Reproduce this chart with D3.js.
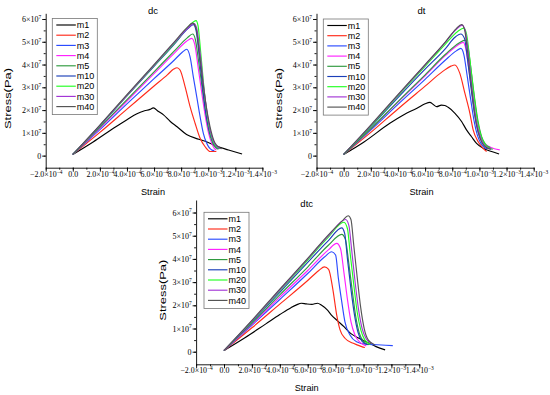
<!DOCTYPE html>
<html><head><meta charset="utf-8">
<script src="https://cdn.jsdelivr.net/npm/d3@7"></script>
<style>body{margin:0;background:#fff}svg{display:block;background:#fff}</style>
</head><body>
<svg id="c" width="550" height="395"></svg>
<script>
// ---- data (strain in units of 1e-4, stress in units of 1e7 Pa) ----
const STRAIN_UNIT = 1e-4, STRESS_UNIT = 1e7;
const seriesNames = ["m1","m2","m3","m4","m5","m10","m20","m30","m40"];
const seriesColors = ["#000000","#ff2a1a","#2b4bff","#ff22ff","#2f9a3f","#1b3fb8","#22ff22","#a336d6","#555555"];

const xTickValues = [-2e-4,0,2e-4,4e-4,6e-4,8e-4,1.0e-3,1.2e-3,1.4e-3];
const xTickMantissa = ["\u22122.0","0.0","2.0","4.0","6.0","8.0","1.0","1.2","1.4"];
const xTickExponent = ["\u22124","","\u22124","\u22124","\u22124","\u22124","\u22123","\u22123","\u22123"];
const yTickValues = [0,1e7,2e7,3e7,4e7,5e7,6e7];
const yTickMantissa = ["0","1","2","3","4","5","6"];
const yTickExponent = ["","7","7","7","7","7","7"];

// dc
const dc_m1 = [[0,0.05],[1.5,0.6],[3,1.2],[4,1.58],[4.7,1.83],[5.3,1.97],[5.7,2.03],[5.95,2.1],[6.3,1.95],[6.7,1.79],[7.2,1.5],[7.7,1.27],[8.4,0.93],[9.3,0.72],[10.0,0.58],[10.6,0.42],[11.5,0.25],[12.5,0.07]];
const dc_m2 = [[0,0.05],[2,1.02],[4,2.04],[6,3.06],[7,3.56],[7.45,3.8],[7.7,3.86],[7.92,3.76],[8.29,3.03],[8.66,2.15],[9.03,1.42],[9.4,0.76],[9.77,0.39],[10.14,0.18],[10.6,0.18]];
const dc_m3 = [[0,0.05],[2,1.14],[4,2.27],[6,3.38],[7.5,4.2],[8.1,4.55],[8.41,4.67],[8.66,4.34],[8.9,3.46],[9.15,2.59],[9.4,1.71],[9.64,0.98],[9.89,0.54],[10.26,0.25],[10.45,0.22]];
const dc_m4 = [[0,0.05],[2,1.2],[4,2.4],[6,3.6],[7.5,4.5],[8.4,5.02],[8.78,5.15],[9.0,4.9],[9.25,3.9],[9.5,2.85],[9.75,1.85],[10.0,1.05],[10.25,0.55],[10.45,0.32],[10.6,0.25]];
const dc_m5 = [[0,0.05],[2,1.24],[4,2.46],[6,3.68],[7.5,4.6],[8.45,5.17],[8.85,5.34],[9.05,5.1],[9.3,4.1],[9.55,3.0],[9.8,1.95],[10.05,1.1],[10.3,0.6],[10.55,0.35],[10.75,0.28]];
const dc_m10 = [[0,0.05],[2,1.31],[4,2.62],[6,3.92],[7.5,4.9],[8.5,5.58],[8.9,5.75],[9.1,5.5],[9.35,4.3],[9.58,3.05],[9.8,1.95],[10.05,1.15],[10.35,0.6],[10.65,0.35],[10.8,0.3]];
const dc_m20 = [[0,0.05],[2,1.32],[4,2.64],[6,3.95],[7.5,4.93],[8.6,5.7],[9.1,5.93],[9.25,5.7],[9.45,4.5],[9.65,3.2],[9.87,2.0],[10.1,1.15],[10.4,0.55],[10.7,0.35],[10.85,0.3]];
const dc_m30 = [[0,0.05],[2,1.33],[4,2.65],[6,3.97],[7.5,4.96],[8.5,5.6],[8.95,5.8],[9.15,5.6],[9.4,4.5],[9.65,3.1],[9.9,1.95],[10.15,1.1],[10.45,0.55],[10.75,0.35],[10.9,0.3]];
const dc_m40 = [[0,0.05],[2,1.34],[4,2.68],[6,4.0],[7.5,5.0],[8.4,5.6],[8.85,5.82],[9.1,5.6],[9.35,4.5],[9.62,3.15],[9.9,2.0],[10.2,1.1],[10.5,0.55],[10.85,0.35],[11.0,0.3]];

// dt
const dt_m1 = [[0,0.05],[1.5,0.6],[3.4,1.42],[4.5,1.82],[5.4,2.08],[6.0,2.28],[6.35,2.34],[6.6,2.25],[6.85,2.15],[7.2,2.22],[7.45,2.2],[7.7,2.12],[8.2,1.86],[8.7,1.49],[9.05,1.13],[9.42,0.83],[9.79,0.54],[10.28,0.32],[10.9,0.18],[11.45,0.07]];
const dt_m2 = [[0,0.05],[2,1.02],[4,2.05],[6,3.05],[7.3,3.7],[7.9,3.93],[8.19,3.98],[8.56,3.61],[8.93,2.74],[9.3,1.86],[9.54,1.13],[9.91,0.61],[10.28,0.32],[10.53,0.18]];
const dt_m3 = [[0,0.05],[2,1.12],[4,2.25],[6,3.35],[7.5,4.2],[8.3,4.6],[8.63,4.71],[8.85,4.45],[9.1,3.5],[9.35,2.5],[9.6,1.55],[9.85,0.9],[10.1,0.55],[10.4,0.35],[10.6,0.3]];
const dt_m4 = [[0,0.05],[2,1.17],[4,2.35],[6,3.5],[7.5,4.4],[8.4,4.85],[8.8,4.97],[9.0,4.7],[9.25,3.7],[9.5,2.6],[9.75,1.6],[10.0,0.95],[10.3,0.6],[10.7,0.4],[11.1,0.3],[11.5,0.25]];
const dt_m5 = [[0,0.05],[2,1.18],[4,2.37],[6,3.55],[7.5,4.45],[8.5,4.95],[8.97,5.07],[9.15,4.8],[9.4,3.7],[9.65,2.5],[9.9,1.5],[10.15,0.85],[10.45,0.5],[10.8,0.35]];
const dt_m10 = [[0,0.05],[2,1.27],[4,2.55],[6,3.8],[7.5,4.7],[8.2,5.2],[8.63,5.34],[8.9,5.15],[9.15,4.1],[9.4,2.9],[9.65,1.8],[9.9,1.05],[10.2,0.6],[10.5,0.4],[10.8,0.3]];
const dt_m20 = [[0,0.05],[2,1.3],[4,2.62],[6,3.92],[7.5,4.9],[8.4,5.45],[8.85,5.6],[9.05,5.35],[9.3,4.2],[9.55,2.9],[9.8,1.75],[10.05,1.0],[10.35,0.55],[10.7,0.35],[11.0,0.28]];
const dt_m30 = [[0,0.05],[2,1.33],[4,2.66],[6,3.98],[7.5,4.98],[8.3,5.55],[8.73,5.73],[8.95,5.5],[9.2,4.4],[9.45,3.0],[9.7,1.8],[9.95,1.05],[10.25,0.55],[10.6,0.35],[10.9,0.28]];
const dt_m40 = [[0,0.05],[2,1.34],[4,2.68],[6,4.0],[7.5,5.0],[8.3,5.58],[8.68,5.76],[8.9,5.55],[9.15,4.45],[9.4,3.1],[9.65,1.85],[9.9,1.05],[10.2,0.55],[10.55,0.35],[10.85,0.28]];

// dtc
const dtc_m1 = [[0,0.05],[1.5,0.6],[3,1.2],[4,1.6],[4.8,1.9],[5.2,2.02],[5.55,2.09],[5.9,2.06],[6.3,2.04],[6.7,2.09],[7.0,2.0],[7.4,1.8],[7.7,1.58],[8.1,1.35],[8.6,1.08],[9.1,0.78],[9.6,0.6],[10.3,0.4],[10.9,0.22],[11.55,0.08]];
const dtc_m2 = [[0,0.05],[2,1.03],[4,2.05],[6,3.07],[6.8,3.5],[7.2,3.66],[7.5,3.55],[7.8,2.7],[8.08,1.58],[8.32,0.94],[8.67,0.58],[9.27,0.36],[9.87,0.22],[10.1,0.18]];
const dtc_m3 = [[0,0.05],[2,1.14],[4,2.25],[6,3.37],[7.2,4.08],[7.72,4.31],[8.0,4.17],[8.2,3.16],[8.44,2.16],[8.67,1.29],[9.03,0.72],[9.5,0.43],[10.2,0.32],[11.0,0.3],[11.6,0.28],[12.1,0.26]];
const dtc_m4 = [[0,0.05],[2,1.18],[4,2.35],[6,3.5],[7.5,4.4],[8.08,4.67],[8.35,4.45],[8.6,3.4],[8.85,2.25],[9.1,1.3],[9.4,0.7],[9.8,0.38],[10.2,0.25]];
const dtc_m5 = [[0,0.05],[2,1.22],[4,2.45],[6,3.65],[7.5,4.6],[8.44,5.06],[8.7,4.85],[8.95,3.8],[9.2,2.6],[9.45,1.5],[9.7,0.8],[10.0,0.45],[10.4,0.3]];
const dtc_m10 = [[0,0.05],[2,1.28],[4,2.56],[6,3.85],[7.5,4.8],[8.44,5.34],[8.65,5.1],[8.85,4.0],[9.1,2.7],[9.35,1.6],[9.6,0.85],[9.9,0.45],[10.3,0.3]];
const dtc_m20 = [[0,0.05],[2,1.31],[4,2.62],[6,3.95],[7.5,4.95],[8.6,5.58],[8.85,5.3],[9.05,4.2],[9.3,2.9],[9.55,1.7],[9.8,0.95],[10.1,0.5],[10.5,0.32]];
const dtc_m30 = [[0,0.05],[2,1.33],[4,2.66],[6,4.0],[7.5,5.0],[8.72,5.7],[8.95,5.45],[9.15,4.4],[9.4,3.0],[9.65,1.8],[9.9,1.0],[10.2,0.55],[10.6,0.35]];
const dtc_m40 = [[0,0.05],[2,1.35],[4,2.7],[6,4.02],[7.5,5.05],[8.5,5.65],[8.9,5.86],[9.1,5.7],[9.3,4.6],[9.55,3.2],[9.8,1.9],[10.05,1.0],[10.35,0.5],[10.8,0.3]];

const dcSeries = [dc_m1,dc_m2,dc_m3,dc_m4,dc_m5,dc_m10,dc_m20,dc_m30,dc_m40];
const dtSeries = [dt_m1,dt_m2,dt_m3,dt_m4,dt_m5,dt_m10,dt_m20,dt_m30,dt_m40];
const dtcSeries = [dtc_m1,dtc_m2,dtc_m3,dtc_m4,dtc_m5,dtc_m10,dtc_m20,dtc_m30,dtc_m40];

// ---- layout ----
const panels = [
  {title:"dc", series:dcSeries, left:45.7, right:262.4, top:13.3, bottom:167.7, yMin:-0.53e7, yMax:6.25e7, titleX:153, titleY:14, yTitleX:8, legX:52.3, legY:18.5},
  {title:"dt", series:dtSeries, left:316.5, right:533.7, top:13.3, bottom:167.7, yMin:-0.53e7, yMax:6.25e7, titleX:421.5, titleY:14, yTitleX:279, legX:323.3, legY:19},
  {title:"dtc", series:dtcSeries, left:196.1, right:419.3, top:200, bottom:364.3, yMin:-0.543e7, yMax:6.54e7, titleX:306.7, titleY:206.7, yTitleX:163, legX:204, legY:212.3}
];

const svg = d3.select("#c");
const SERIF = "'Liberation Serif','Times New Roman',serif";
const SANS = "'Liberation Sans',Arial,sans-serif";

function supLabel(sel, mant, exp) {
  sel.text(null);
  sel.append("tspan").text(mant + (exp ? "\u00d710" : ""));
  if (exp) sel.append("tspan").attr("dy", -3.2).attr("font-size", 5.4).text(exp);
}

panels.forEach(p => {
  const g = svg.append("g");
  const x = d3.scaleLinear().domain([-2e-4, 1.4e-3]).range([p.left, p.right]);
  const y = d3.scaleLinear().domain([p.yMin, p.yMax]).range([p.bottom, p.top]);

  // minor ticks
  const xMinor = d3.range(-2, 14.01, 1).map(v => v * STRAIN_UNIT);
  const yMinor = d3.range(0, 6.01, 0.5).map(v => v * STRESS_UNIT);
  g.append("g").attr("transform", `translate(0,${p.bottom})`)
    .call(d3.axisBottom(x).tickValues(xMinor).tickSize(2).tickFormat(""))
    .call(a => a.select(".domain").remove());
  g.append("g").attr("transform", `translate(${p.left},0)`)
    .call(d3.axisLeft(y).tickValues(yMinor).tickSize(2).tickFormat(""))
    .call(a => a.select(".domain").remove());

  // major axes
  const gx = g.append("g").attr("transform", `translate(0,${p.bottom})`)
    .call(d3.axisBottom(x).tickValues(xTickValues).tickSize(4).tickSizeOuter(0).tickFormat(""));
  gx.selectAll(".tick text").attr("y", 3.5).attr("font-family", SERIF).attr("font-size", 7.9).attr("fill", "#000")
    .each(function(d, i) { supLabel(d3.select(this), xTickMantissa[i], xTickExponent[i]); });
  const gy = g.append("g").attr("transform", `translate(${p.left},0)`)
    .call(d3.axisLeft(y).tickValues(yTickValues).tickSize(3.5).tickSizeOuter(0).tickFormat(""));
  gy.selectAll(".tick text").attr("x", -4.5).attr("font-family", SERIF).attr("font-size", 8).attr("fill", "#000")
    .each(function(d, i) { supLabel(d3.select(this), yTickMantissa[i], yTickExponent[i]); });
  g.selectAll(".domain, .tick line").attr("stroke", "#000").attr("stroke-width", 0.9);

  // lines
  const line = d3.line().x(d => x(d[0] * STRAIN_UNIT)).y(d => y(d[1] * STRESS_UNIT)).curve(d3.curveMonotoneX);
  p.series.forEach((s, i) => {
    g.append("path").datum(s).attr("d", line).attr("fill", "none")
      .attr("stroke", seriesColors[i]).attr("stroke-width", 1.15).attr("stroke-linejoin", "round");
  });

  // titles
  g.append("text").attr("x", p.titleX).attr("y", p.titleY).attr("text-anchor", "middle")
    .attr("font-family", SANS).attr("font-size", 9.5).text(p.title);
  g.append("text").attr("x", p.titleX).attr("y", p.bottom + 27).attr("text-anchor", "middle")
    .attr("font-family", SANS).attr("font-size", 9.2).text("Strain");
  const cy = (p.top + p.bottom) / 2 + 8;
  g.append("text").attr("transform", `translate(${p.yTitleX},${cy}) rotate(-90)`)
    .attr("text-anchor", "middle").attr("dy", "0.35em")
    .attr("font-family", SANS).attr("font-size", 8.6)
    .attr("textLength", 61).attr("lengthAdjust", "spacingAndGlyphs").text("Stress(Pa)");

  // legend
  const rowH = 10.2;
  const lg = g.append("g").attr("transform", `translate(${p.legX},${p.legY})`);
  lg.append("rect").attr("x", 0).attr("y", 0).attr("width", 45).attr("height", 6.5 + rowH * 8 + 8)
    .attr("fill", "#fff").attr("stroke", "#777").attr("stroke-width", 0.8);
  seriesNames.forEach((n, i) => {
    const ry = 6.5 + i * rowH;
    lg.append("line").attr("x1", 4).attr("x2", 23.5).attr("y1", ry).attr("y2", ry)
      .attr("stroke", seriesColors[i]).attr("stroke-width", 1.15);
    lg.append("text").attr("x", 24.5).attr("y", ry).attr("dy", "0.35em")
      .attr("font-family", SANS).attr("font-size", 9).text(n);
  });
});
</script>
</body></html>
